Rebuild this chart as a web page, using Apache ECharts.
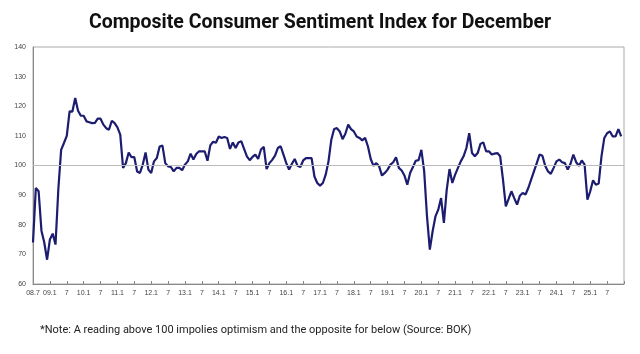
<!DOCTYPE html>
<html>
<head>
<meta charset="utf-8">
<title>Composite Consumer Sentiment Index</title>
<script src="https://cdn.jsdelivr.net/npm/echarts@6/dist/echarts.min.js"></script>
<style>
  html, body { margin: 0; padding: 0; background: #fff; }
  #chart { width: 640px; height: 354px; }
</style>
</head>
<body>
<div id="chart"></div>
<script>
// monthly CCSI, 2008.7 - 2025.12
const v2008 = [74, 92.4, 91.3, 78, 74, 68.2];
const v2009 = [75, 77, 73.3, 92, 105.3, 107.6, 110, 118.3, 118.2, 122.8, 118.5, 116.8];
const v2010 = [116.8, 114.9, 114.6, 114.3, 114.4, 115.8, 115.8, 113.8, 112.6, 112.1, 115.1, 114.3];
const v2011 = [112.9, 110.4, 99.2, 100.8, 104.4, 102.8, 102.8, 98, 97.5, 100.3, 104.4, 98.6];
const v2012 = [97.5, 101.4, 102.5, 106.4, 106.7, 100.8, 99.7, 99.5, 98, 99.2, 99.2, 98.4];
const v2013 = [100.3, 101.4, 104, 102, 103.9, 104.8, 104.8, 104.8, 101.6, 106.8, 108, 107.7];
const v2014 = [109.8, 109.3, 109.6, 109.3, 105.6, 107.8, 105.9, 107.8, 108.2, 105.6, 103.1, 101.8];
const v2015 = [102.9, 103.7, 102.2, 105.4, 106.3, 98.8, 100.8, 101.9, 103.3, 105.9, 106.5, 103.7];
const v2016 = [100.8, 98.6, 100.6, 102.2, 99.9, 99.5, 101.7, 102.5, 102.5, 102.5, 96.3, 94.1];
const v2017 = [93.2, 94.1, 96.9, 101.4, 108.7, 112.3, 112.6, 111.5, 108.9, 110.7, 113.8, 112.3];
const v2018 = [111.5, 109.8, 109.3, 108.5, 109.3, 106.5, 102.2, 99.9, 100.8, 99.7, 96.6, 97.5];
const v2019 = [98.6, 100.3, 101.1, 102.8, 99.2, 98.3, 96.6, 93.5, 97.5, 99.5, 101.6, 101.8];
const v2020 = [105.3, 98, 82.8, 71.6, 77.8, 82.8, 85.1, 89, 80.6, 91.8, 98.8, 94.1];
const v2021 = [96.9, 99.2, 101.4, 103.1, 105.9, 110.9, 104.2, 103.1, 104.2, 107.3, 107.8, 104.8];
const v2022 = [104.8, 103.7, 104, 104.2, 103.1, 95.2, 86.2, 88.7, 91.3, 89, 86.8, 89.8];
const v2023 = [90.7, 90.2, 92.4, 95.2, 98, 100.8, 103.7, 103.3, 99.9, 98, 97.2, 99.2];
const v2024 = [101.4, 102, 101.1, 100.8, 98.6, 100.6, 103.7, 101.1, 99.9, 101.7, 100.3, 88.5];
const v2025 = [91.3, 95, 93.5, 93.9, 103.1, 109.3, 110.9, 111.5, 109.8, 109.8, 112.3, 109.8];

// labels every 6 months starting 08.7
const tickLabels = ['08.7', '09.1', '7', '10.1', '7', '11.1', '7', '12.1', '7', '13.1', '7',
  '14.1', '7', '15.1', '7', '16.1', '7', '17.1', '7', '18.1', '7', '19.1', '7', '20.1', '7',
  '21.1', '7', '22.1', '7', '23.1', '7', '24.1', '7', '25.1', '7', ''];

const values = [].concat(v2008, v2009, v2010, v2011, v2012, v2013, v2014, v2015, v2016,
  v2017, v2018, v2019, v2020, v2021, v2022, v2023, v2024, v2025);

// one extra month so the axis runs to 26.1
const months = [];
for (let y = 2008, m = 7; months.length < values.length + 1; m++) {
  if (m > 12) { m = 1; y++; }
  months.push(y + '.' + (m < 10 ? '0' + m : m));
}

const chart = echarts.init(document.getElementById('chart'));
chart.setOption({
  animation: false,
  title: {
    text: 'Composite Consumer Sentiment Index for December',
    left: 'center',
    top: 8,
    textStyle: { fontFamily: 'Roboto', fontWeight: 'bold', fontSize: 19.5, color: '#111' }
  },
  grid: {
    left: 33, right: 16, top: 47, bottom: 70,
    show: true, borderColor: '#aaa', borderWidth: 1
  },
  xAxis: {
    type: 'category',
    data: months,
    boundaryGap: false,
    axisLine: { lineStyle: { color: '#888' } },
    axisTick: { interval: 5, inside: true, length: 3, lineStyle: { color: '#888' } },
    axisLabel: {
      interval: 5,
      margin: 6,
      fontSize: 7,
      fontFamily: 'Liberation Sans',
      color: '#444',
      formatter: (val, idx) => tickLabels[idx / 6] || ''
    },
    splitLine: { show: false }
  },
  yAxis: {
    type: 'value',
    min: 60,
    max: 140,
    interval: 10,
    axisLine: { show: true, lineStyle: { color: '#888' } },
    axisTick: { show: false },
    axisLabel: { fontSize: 7, fontFamily: 'Liberation Sans', color: '#444', margin: 7 },
    splitLine: { show: false }
  },
  series: [{
    type: 'line',
    data: values,
    showSymbol: false,
    lineStyle: { color: '#1c1c70', width: 2.2 },
    markLine: {
      silent: true,
      symbol: 'none',
      label: { show: false },
      lineStyle: { color: '#bbb', width: 1, type: 'solid' },
      data: [{ yAxis: 100 }]
    }
  }],
  graphic: [{
    type: 'text',
    left: 40,
    top: 325,
    style: {
      text: '*Note: A reading above 100 impolies optimism and the opposite for below (Source: BOK)',
      fontFamily: 'Roboto',
      fontSize: 11,
      fill: '#222'
    }
  }]
});
</script>
</body>
</html>
